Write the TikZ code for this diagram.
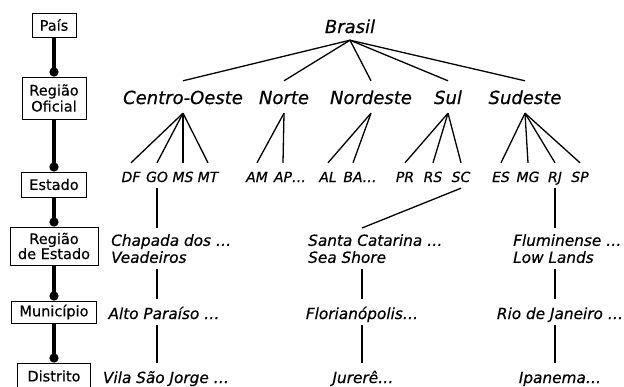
\documentclass[tikz,border=0pt]{standalone}
\usepackage{fontspec}
\setmainfont{DejaVu Sans}[ItalicFont={DejaVu Sans Oblique},
  UprightFeatures={FakeBold=0.3}, ItalicFeatures={FakeBold=0.5}]
\usetikzlibrary{arrows.meta}

\begin{document}
\begin{tikzpicture}[
    x=1pt, y=-1pt,
    nivel/.style={draw, line width=1pt, align=center, inner sep=0pt,
      font=\fontsize{14.5}{16}\selectfont},
    espinha/.style={line width=4pt, -{Circle[length=9pt]}},
    ramo/.style={line width=1.3pt},
    topo/.style={font=\itshape\fontsize{18}{20}\selectfont, anchor=base,
      inner sep=0pt, text height=14pt, text depth=7pt},
    regiao/.style={topo, text height=23pt, text depth=9pt},
    uf/.style={font=\itshape\fontsize{14}{16}\selectfont, anchor=base,
      inner sep=0pt, text height=19pt, text depth=6pt},
    local/.style={font=\itshape\fontsize{15.3}{17}\selectfont, anchor=base,
      inner sep=0pt, text height=19.5pt, text depth=6pt},
    localdois/.style={font=\itshape\fontsize{15.3}{17}\selectfont,
      anchor=north west, align=left, inner xsep=0pt, inner ysep=6pt}
  ]
  \useasboundingbox[fill=white] (0,0) rectangle (624,386);

  % niveis da hierarquia
  \node[nivel, minimum width=44pt, minimum height=24pt] (npais) at (54,25) {País};
  \node[nivel, minimum width=64pt, minimum height=42pt] (nregof) at (54,98) {Região\\Oficial};
  \node[nivel, minimum width=65pt, minimum height=25pt] (nestado) at (54,184.5) {Estado};
  \node[nivel, minimum width=88pt, minimum height=38pt,
    font=\fontsize{14.5}{14}\selectfont] (nregest) at (54,246) {Região\\de Estado};
  \node[nivel, minimum width=85pt, minimum height=22pt] (nmun) at (54,312) {Município};
  \node[nivel, minimum width=73pt, minimum height=26pt] (ndist) at (54,376) {Distrito};
  \foreach \a/\b in {npais/nregof, nregof/nestado, nestado/nregest, nregest/nmun, nmun/ndist}
    \draw[espinha] (\a.south) -- (\b.north);

  % arvore
  \node[topo] (brasil) at (350,33) {Brasil};
  \node[regiao] (co) at (183,104) {Centro-Oeste};
  \node[regiao] (no) at (284,104) {Norte};
  \node[regiao] (ne) at (371,104) {Nordeste};
  \node[regiao] (su) at (448,104) {Sul};
  \node[regiao] (se) at (525,104) {Sudeste};
  \foreach \r in {co, no, ne, su, se}
    \draw[ramo] (brasil.south) -- (\r.north);

  \node[uf] (df) at (131,182) {DF};
  \node[uf] (go) at (157,182) {GO};
  \node[uf] (ms) at (183,182) {MS};
  \node[uf] (mt) at (208,182) {MT};
  \node[uf] (am) at (257,182) {AM};
  \node[uf] (ap) at (283,182) {AP\rlap{…}};
  \node[uf] (al) at (328,182) {AL};
  \node[uf] (ba) at (353,182) {BA\rlap{…}};
  \node[uf] (pr) at (405,182) {PR};
  \node[uf] (rs) at (433,182) {RS};
  \node[uf] (sc) at (461,182) {SC};
  \node[uf] (es) at (501,182) {ES};
  \node[uf] (mg) at (528,182) {MG};
  \node[uf] (rj) at (555,182) {RJ};
  \node[uf] (sp) at (580,182) {SP};
  \foreach \r/\e in {co/df, co/go, co/ms, co/mt, no/am, no/ap, ne/al, ne/ba,
      su/pr, su/rs, su/sc, se/es, se/mg, se/rj, se/sp}
    \draw[ramo] (\r.south) -- (\e.north);

  \node[localdois] (chapada) at (111,228) {Chapada dos …\\Veadeiros};
  \node[localdois] (santacat) at (308,228) {Santa Catarina …\\Sea Shore};
  \node[localdois] (flumin) at (513,228) {Fluminense …\\Low Lands};

  \node[local] (alto) at (164,319) {Alto Paraíso …};
  \node[local] (vila) at (166,383) {Vila São Jorge …};
  \node[local] (floripa) at (362,319) {Florianópolis…};
  \node[local] (jurere) at (363,383) {Jurerê…};
  \node[local] (rio) at (560,319) {Rio de Janeiro …};
  \node[local] (ipanema) at (560,383) {Ipanema…};

  \draw[ramo] (go.south) -- (go.south |- chapada.north);
  \draw[ramo] (go.south |- chapada.south) -- (go.south |- alto.north);
  \draw[ramo] (go.south |- alto.south) -- (go.south |- vila.north);
  \draw[ramo] (sc.south) -- (floripa.north |- santacat.north);
  \draw[ramo] (floripa.north |- santacat.south) -- (floripa.north);
  \draw[ramo] (floripa.south) -- (floripa.south |- jurere.north);
  \draw[ramo] (rj.south) -- (rj.south |- flumin.north);
  \draw[ramo] (rj.south |- flumin.south) -- (rj.south |- rio.north);
  \draw[ramo] (rj.south |- rio.south) -- (rj.south |- ipanema.north);
\end{tikzpicture}
\end{document}
